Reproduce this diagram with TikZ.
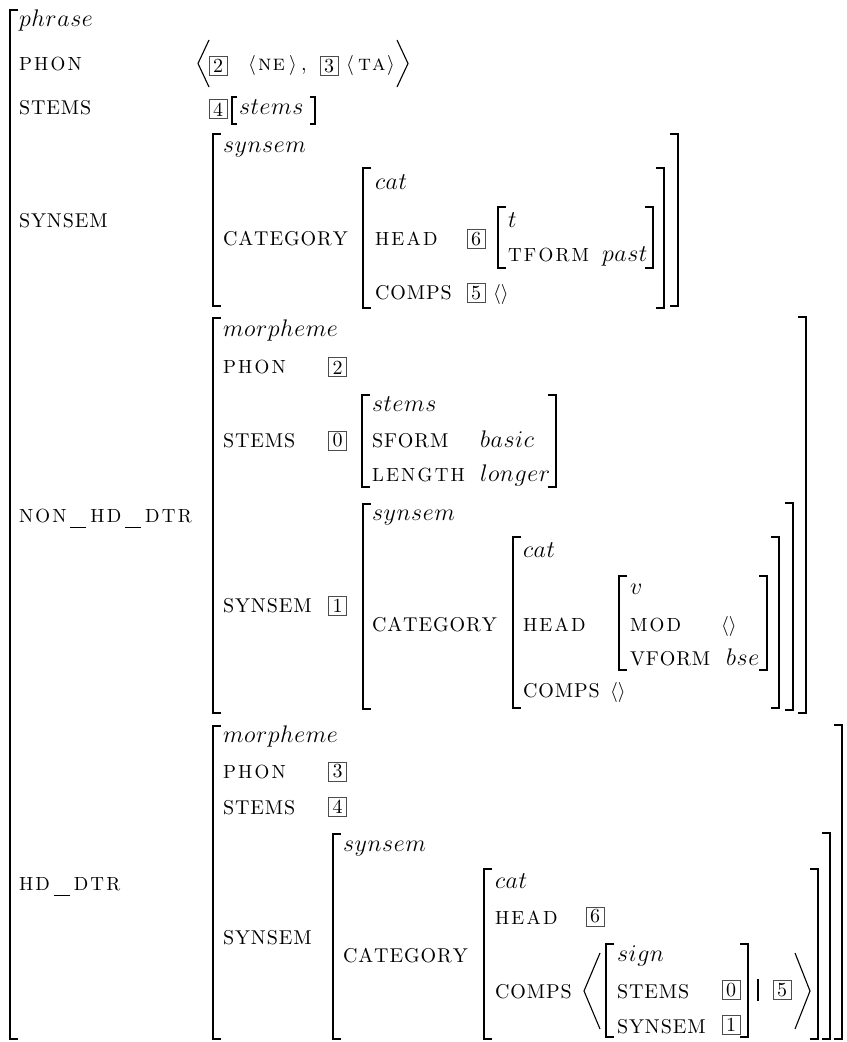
\documentclass[tikz,border=0pt]{standalone}
\usepackage{graphicx}
\def\lsstop{\lsstop}
\def\lsloop#1{\ifx#1\lsstop\else#1\kern\lskern\relax\expandafter\lsloop\fi}
\newcommand\lspace[2]{\def\lskern{#1}\lsloop#2\lsstop}
\newcommand\capw[1]{{\fontsize{10}{12}\selectfont\lspace{0.45pt}{#1}}}
\newcommand\scw[1]{{\fontsize{9.5}{11}\selectfont\lspace{1.1pt}{#1}}}
\newcommand\itw[1]{{\fontsize{12}{14}\selectfont$\lspace{0.3pt}{#1}$}}
\newcommand\smc[1]{{\fontsize{11}{13}\selectfont\textsc{\lspace{0.6pt}{#1}}}}
\newcommand\usc{\kern0.8pt\rule[-3pt]{8pt}{0.5pt}\kern2pt}
\newcommand\AvmL[4][8]{\draw[brk] (#2,#3) ++(#1,0) -- (#2,#3) -- (#2,#4) -- ++(#1,0);}
\newcommand\AvmR[4][8]{\draw[brk] (#2,#3) ++(-#1,0) -- (#2,#3) -- (#2,#4) -- ++(-#1,0);}
\begin{document}
\begin{tikzpicture}[x=0.5pt,y=-0.5pt,
 lbl/.style={anchor=base west, inner sep=0pt, outer sep=0pt},
 tagbox/.style={draw=black!70, line width=0.5pt, minimum width=9pt, minimum height=9.5pt, inner sep=0pt, font=\fontsize{10}{12}\selectfont},
 brk/.style={line width=0.9pt},
 ang/.style={line width=0.55pt}]
\useasboundingbox (0,0) rectangle (846,1042);

% outer matrix
\AvmL{10}{10}{1039}
\node[lbl] (phrase) at (19,27) {\itw{phrase}};
\node[lbl] (phon) at (19,71) {\scw{PHON}};
\draw[ang] (209,40) -- (198,63.5) -- (209,87);
\node[tagbox] (t2a) at (218,66) {2};
\node[lbl] (la1) at (248,71) {$\langle$};
\node[lbl] (ne) at (258,71) {\smc{ne}};
\node[lbl] (ra1) at (289,71) {$\rangle$};
\node[lbl] (comma) at (301,71) {,};
\node[tagbox] (t3a) at (329,66) {3};
\node[lbl] (la2) at (346,71) {$\langle$};
\node[lbl] (ta) at (358,71) {\smc{ta}};
\node[lbl] (ra2) at (387,71) {$\rangle$};
\draw[ang] (397,40) -- (408,63.5) -- (397,87);

\node[lbl] (stems) at (19,115) {\capw{STEMS}};
\node[tagbox] (t4a) at (218,109.5) {4};
\AvmL[5]{232}{97}{124}
\node[lbl] (stemsv) at (239,115) {\itw{stems}};
\AvmR[5]{315}{97}{124}

% SYNSEM
\node[lbl] (synsemL) at (19,228) {\capw{SYNSEM}};
\AvmL{213}{134}{306}
\node[lbl] (ss1) at (223,153) {\itw{synsem}};
\node[lbl] (cat1L) at (223,246) {\capw{CATEGORY}};
\AvmL{363}{168}{308}
\node[lbl] (cat1) at (375,190) {\itw{cat}};
\node[lbl] (head1) at (375,246) {\scw{HEAD}};
\node[tagbox] (t6a) at (476,239.5) {6};
\AvmL{498}{207}{268}
\node[lbl] (t) at (508,228) {\itw{t}};
\node[lbl] (tform) at (508,262) {\scw{TFORM}};
\node[lbl] (past) at (602,262) {\itw{past}};
\AvmR{653}{207}{268}
\node[lbl] (comps1) at (375,300) {\capw{COMPS}};
\node[tagbox] (t5a) at (476,293) {5};
\node[lbl] (el1) at (493,300) {$\langle\rangle$};
\AvmR{664}{168}{308}
\AvmR{678}{134}{306}

% NON_HD_DTR
\node[lbl] (nhd) at (19,522) {\scw{NON}\usc\scw{HD}\usc\scw{DTR}};
\AvmL{213}{318}{713}
\node[lbl] (m1) at (223,337) {\itw{morpheme}};
\node[lbl] (phon2) at (223,374) {\scw{PHON}};
\node[tagbox] (t2b) at (337.5,367.5) {2};
\node[lbl] (stems2) at (223,447) {\capw{STEMS}};
\node[tagbox] (t0a) at (337.5,440.5) {0};
\AvmL{362}{395}{487}
\node[lbl] (stemsb) at (372,411) {\itw{stems}};
\node[lbl] (sform) at (372,447) {\capw{SFORM}};
\node[lbl] (basic) at (480,447) {\itw{basic}};
\node[lbl] (length) at (372,481) {\scw{LENGTH}};
\node[lbl] (longer) at (480,481) {\itw{longer}};
\AvmR{556}{395}{487}
\node[lbl] (synsem2L) at (223,612) {\capw{SYNSEM}};
\node[tagbox] (t1a) at (337.5,605.5) {1};
\AvmL{363}{504}{709}
\node[lbl] (ss2) at (372,520) {\itw{synsem}};
\node[lbl] (cat2L) at (372,631) {\capw{CATEGORY}};
\AvmL{513}{537}{708}
\node[lbl] (cat2) at (523,557) {\itw{cat}};
\node[lbl] (head2) at (523,631) {\scw{HEAD}};
\AvmL{619}{576}{670}
\node[lbl] (v) at (630,594) {\itw{v}};
\node[lbl] (mod) at (630,631) {\scw{MOD}};
\node[lbl] (el2) at (721,631) {$\langle\rangle$};
\node[lbl] (vform) at (630,665) {\capw{VFORM}};
\node[lbl] (bse) at (726,665) {\itw{bse}};
\AvmR{767}{576}{670}
\node[lbl] (comps2) at (523,697) {\capw{COMPS}};
\node[lbl] (el3) at (610,697) {$\langle\rangle$};
\AvmR{779}{537}{708}
\AvmR{793}{503}{710}
\AvmR{806}{317}{713}

% HD_DTR
\node[lbl] (hd) at (19,890) {\scw{HD}\usc\scw{DTR}};
\AvmL{213}{726}{1039}
\node[lbl] (m2) at (223,742) {\itw{morpheme}};
\node[lbl] (phon3) at (223,778) {\scw{PHON}};
\node[tagbox] (t3b) at (337.5,771.5) {3};
\node[lbl] (stems3) at (223,814) {\capw{STEMS}};
\node[tagbox] (t4b) at (337.5,807) {4};
\node[lbl] (synsem3L) at (223,944) {\capw{SYNSEM}};
\AvmL{333}{834}{1039}
\node[lbl] (ss3) at (343,851) {\itw{synsem}};
\node[lbl] (cat3L) at (343,962) {\capw{CATEGORY}};
\AvmL{484}{869}{1039}
\node[lbl] (cat3) at (495,888) {\itw{cat}};
\node[lbl] (head3) at (495,924) {\scw{HEAD}};
\node[tagbox] (t6b) at (595,916.5) {6};
\node[lbl] (comps3) at (495,998) {\capw{COMPS}};
\draw[ang] (600,953) -- (584,991) -- (600,1029);
\AvmL{606}{944}{1037}
\node[lbl] (sign) at (617,961) {\itw{sign}};
\node[lbl] (stems4) at (617,998) {\capw{STEMS}};
\node[tagbox] (t0b) at (731,990) {0};
\node[lbl] (synsem4) at (617,1033) {\capw{SYNSEM}};
\node[tagbox] (t1b) at (731,1025) {1};
\AvmR{748}{944}{1037}
\draw[ang] (758,979) -- (758,1001);
\node[tagbox] (t5b) at (782,990) {5};
\draw[ang] (795,953) -- (810,991) -- (795,1029);
\AvmR{818}{869}{1039}
\AvmR{830}{833}{1039}
\AvmR{842}{725}{1039}
\end{tikzpicture}
\end{document}
